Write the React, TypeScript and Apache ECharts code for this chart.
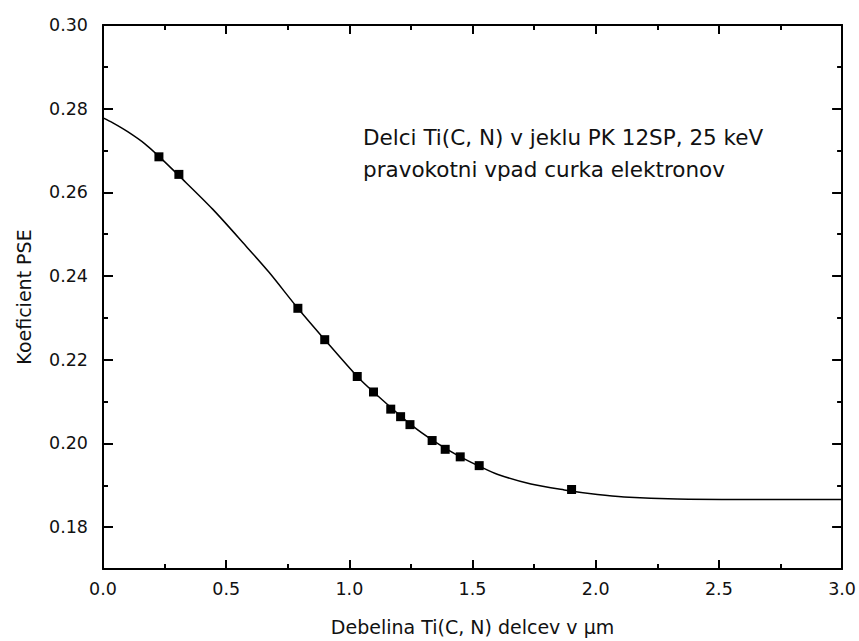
import React, { useEffect, useRef } from "react";
import * as echarts from "echarts";

// Measured points (thickness in µm, PSE coefficient)
const pointX = [0.227, 0.308, 0.791, 0.900, 1.032, 1.098, 1.168, 1.208, 1.246, 1.336, 1.389, 1.450, 1.527, 1.902];
const pointY = [0.2685, 0.2643, 0.2323, 0.2248, 0.2160, 0.2123, 0.2082, 0.2064, 0.2045, 0.2007, 0.1986, 0.1968, 0.1947, 0.1890];

// Fitted curve
const curveX = [0, 0.04, 0.1, 0.17, 0.227, 0.308, 0.445, 0.58, 0.674, 0.791, 0.9, 1.032, 1.1, 1.25, 1.34, 1.45, 1.53, 1.603, 1.737, 1.872, 2.007, 2.115, 2.33, 2.6, 3.0];
const curveY = [0.2778, 0.2766, 0.2745, 0.2716, 0.2686, 0.2640, 0.2560, 0.2472, 0.2409, 0.2323, 0.2248, 0.2160, 0.2122, 0.2045, 0.2007, 0.1968, 0.1945, 0.1926, 0.1903, 0.1889, 0.1878, 0.1872, 0.1867, 0.1866, 0.1866];

const xTitle = "Debelina Ti(C, N) delcev v µm";
const yTitle = "Koeficient PSE";
const noteLines = ["Delci Ti(C, N) v jeklu PK 12SP, 25 keV", "pravokotni vpad curka elektronov"];

const FONT = "DejaVu Sans";
const INK = "#111";

export default function App() {
  const ref = useRef<HTMLDivElement>(null);
  useEffect(() => {
    if (!ref.current) return;
    const chart = echarts.init(ref.current, null, { renderer: "svg" });
    const lineStyle = { color: "#000", width: 2 };
    const xBase = {
      type: "value",
      min: 0,
      max: 3,
      interval: 0.5,
      axisLine: { show: true, onZero: false, lineStyle },
      axisTick: { show: true, inside: true, length: 9, lineStyle: { color: "#000", width: 2 } },
      minorTick: { show: true, splitNumber: 2, length: 5, lineStyle: { color: "#000", width: 2 } },
      splitLine: { show: false },
    };
    const yMinor = {
      type: "value",
      min: 0.17,
      max: 0.3,
      interval: 0.01,
      axisLine: { show: true, onZero: false, lineStyle },
      axisTick: { show: true, inside: true, length: 5, lineStyle: { color: "#000", width: 2 } },
      axisLabel: { show: false },
      splitLine: { show: false },
    };
    const yMajor = {
      type: "value",
      min: -0.3,
      max: -0.17,
      interval: 0.02,
      inverse: true,
      axisLine: { show: false, onZero: false },
      axisTick: { show: true, inside: true, length: 10, lineStyle: { color: "#000", width: 2 } },
      splitLine: { show: false },
    };
    chart.setOption({
      animation: false,
      backgroundColor: "#fff",
      grid: { left: 103, top: 25, right: 13, bottom: 69, containLabel: false },
      xAxis: [
        {
          ...xBase,
          position: "bottom",
          axisLabel: {
            show: true,
            margin: 11,
            fontFamily: FONT,
            fontSize: 17.5,
            color: INK,
            formatter: (v: number) => v.toFixed(1),
          },
          name: xTitle,
          nameLocation: "middle",
          nameGap: 48,
          nameTextStyle: { fontFamily: FONT, fontSize: 19, color: INK },
        },
        { ...xBase, position: "top", axisLabel: { show: false } },
      ],
      yAxis: [
        { ...yMinor, position: "left" },
        { ...yMinor, position: "right" },
        {
          ...yMajor,
          position: "left",
          axisLabel: {
            show: true,
            margin: 15,
            fontFamily: FONT,
            fontSize: 17.5,
            color: INK,
            showMaxLabel: true,
            showMinLabel: true,
            formatter: (v: number) => {
              const h = Math.round(-v * 100);
              return h % 2 === 0 ? (-v).toFixed(2) : "";
            },
          },
          name: yTitle,
          nameLocation: "middle",
          nameRotate: 90,
          nameGap: 70,
          nameTextStyle: { fontFamily: FONT, fontSize: 19, color: INK },
        },
        { ...yMajor, position: "right", axisLabel: { show: false } },
      ],
      graphic: [
        {
          type: "text",
          left: 363,
          top: 121,
          style: {
            text: noteLines.join("\n"),
            fontFamily: FONT,
            fontSize: 21.5,
            lineHeight: 32,
            fill: INK,
          },
        },
      ],
      series: [
        {
          type: "line",
          xAxisIndex: 0,
          yAxisIndex: 0,
          data: curveX.map((x, i) => [x, curveY[i]]),
          smooth: 0.3,
          showSymbol: false,
          lineStyle: { color: "#000", width: 1.5 },
          silent: true,
        },
        {
          type: "scatter",
          xAxisIndex: 0,
          yAxisIndex: 0,
          data: pointX.map((x, i) => [x, pointY[i]]),
          symbol: "rect",
          symbolSize: 9,
          itemStyle: { color: "#000", opacity: 1 },
          silent: true,
        },
      ],
    });
    return () => chart.dispose();
  }, []);
  return <div ref={ref} style={{ width: 859, height: 641, position: "absolute", left: 0, top: 0 }} />;
}
